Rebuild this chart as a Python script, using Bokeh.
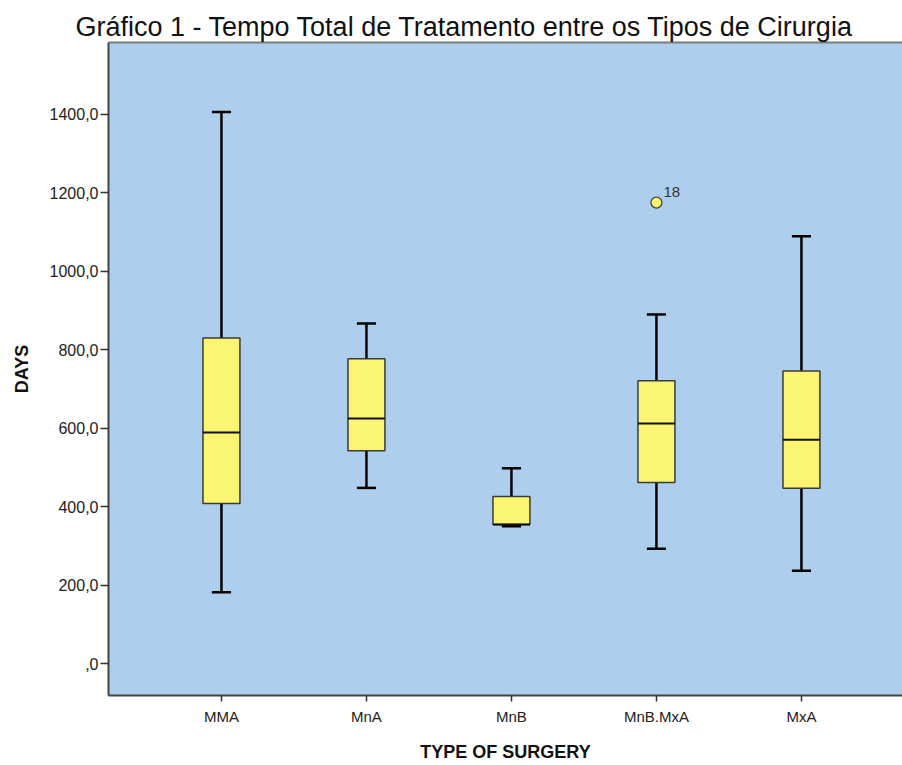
from bokeh.plotting import figure
from bokeh.models import Range1d, FixedTicker, LinearAxis, ColumnDataSource
from bokeh.core.properties import value
from bokeh.embed import file_html
from bokeh.resources import INLINE

# ---- data ----
categories = ["MMA", "MnA", "MnB", "MnB.MxA", "MxA"]
lower_whisker = [182, 448, 350, 293, 237]
q1 = [408, 543, 355, 462, 447]
median = [589, 625, 355, 612, 571]
q3 = [830, 777, 426, 721, 746]
upper_whisker = [1406, 867, 498, 890, 1089]
outlier_category = ["MnB.MxA"]
outlier_value = [1175]
outlier_label = ["18"]
y_ticks = [0, 200, 400, 600, 800, 1000, 1200, 1400]
y_tick_labels = [",0", "200,0", "400,0", "600,0", "800,0", "1000,0", "1200,0", "1400,0"]

title_text = "Gráfico  1 - Tempo Total de Tratamento entre os Tipos de Cirurgia"
x_title = "TYPE OF SURGERY"
y_title = "DAYS"

FONT = "Liberation Sans"
BOX_W = 0.255
CAP_W = 0.132
YELLOW = "#FBF573"
BG = "#ADCFED"

xs = [i + 1 for i in range(len(categories))]
src = ColumnDataSource(dict(
    x=xs, cat=categories, lo=lower_whisker, q1=q1, med=median, q3=q3, hi=upper_whisker,
    bl=[x - BOX_W / 2 for x in xs], br=[x + BOX_W / 2 for x in xs],
    cl=[x - CAP_W / 2 for x in xs], cr=[x + CAP_W / 2 for x in xs],
))
ox = [categories.index(c) + 1 for c in outlier_category]
osrc = ColumnDataSource(dict(x=ox, y=outlier_value, t=outlier_label))

p = figure(width=902, height=765, output_backend="svg", toolbar_location=None,
           x_range=Range1d(0.221, 5.697), y_range=Range1d(-81, 1583),
           min_border_left=108, min_border_right=0, min_border_top=42, min_border_bottom=70)
p.background_fill_color = BG
p.border_fill_color = "white"
p.outline_line_color = None
p.grid.visible = False

# title
p.title.text = title_text
p.title.text_font = FONT
p.title.text_font_size = "27px"
p.title.text_font_style = "normal"
p.title.text_color = "#111111"
p.title.align = "left"
p.title.offset = -33
p.title.standoff = 2

# whiskers
p.segment(x0="x", y0="q3", x1="x", y1="hi", source=src, line_color="black", line_width=2.5)
p.segment(x0="x", y0="lo", x1="x", y1="q1", source=src, line_color="black", line_width=2.5)
p.segment(x0="cl", y0="hi", x1="cr", y1="hi", source=src, line_color="black", line_width=2.5)
p.segment(x0="cl", y0="lo", x1="cr", y1="lo", source=src, line_color="black", line_width=2.5)
# boxes
p.vbar(x="x", width=BOX_W, bottom="q1", top="q3", source=src,
       fill_color=YELLOW, line_color="#3a3a3a", line_width=1.5)
p.segment(x0="bl", y0="med", x1="br", y1="med", source=src, line_color="#111111", line_width=2)

# outlier
p.scatter(x="x", y="y", source=osrc, size=11, fill_color=YELLOW, line_color="#444444", line_width=1.3)
p.text(x="x", y="y", text="t", source=osrc, x_offset=7, y_offset=-10.5,
       text_font=value(FONT), text_font_size="15px", text_color="#333333",
       text_baseline="alphabetic", text_align="left")

# x axis
xa = p.xaxis[0]
xa.ticker = FixedTicker(ticks=xs)
xa.major_label_overrides = {x: c for x, c in zip(xs, categories)}
xa.minor_tick_line_color = None
xa.major_tick_in = 0
xa.major_tick_out = 6
xa.major_tick_line_color = "#333333"
xa.major_tick_line_width = 1.5
xa.axis_line_color = "#444444"
xa.axis_line_width = 2
xa.major_label_text_font = FONT
xa.major_label_text_font_size = "15px"
xa.major_label_text_color = "#222222"
xa.major_label_standoff = 6
xa.axis_label = x_title
xa.axis_label_text_font = FONT
xa.axis_label_text_font_size = "18px"
xa.axis_label_text_font_style = "bold"
xa.axis_label_text_color = "#111111"
xa.axis_label_standoff = 14

# y axis
ya = p.yaxis[0]
ya.ticker = FixedTicker(ticks=y_ticks)
ya.major_label_overrides = {t: l for t, l in zip(y_ticks, y_tick_labels)}
ya.minor_tick_line_color = None
ya.major_tick_in = 0
ya.major_tick_out = 8
ya.major_tick_line_color = "#333333"
ya.major_tick_line_width = 1.5
ya.axis_line_color = "#444444"
ya.axis_line_width = 2
ya.major_label_text_font = FONT
ya.major_label_text_font_size = "16px"
ya.major_label_text_color = "#222222"
ya.major_label_standoff = 2
ya.axis_label = y_title
ya.axis_label_text_font = FONT
ya.axis_label_text_font_size = "18px"
ya.axis_label_text_font_style = "bold"
ya.axis_label_text_color = "#111111"
ya.axis_label_standoff = 15

# top border line
top = LinearAxis(ticker=FixedTicker(ticks=[]), axis_line_color="#7a7a7a", axis_line_width=2,
                 major_tick_line_color=None, minor_tick_line_color=None,
                 major_label_text_font_size="0px")
p.add_layout(top, "above")

open("out.html", "w").write(file_html(p, INLINE))
